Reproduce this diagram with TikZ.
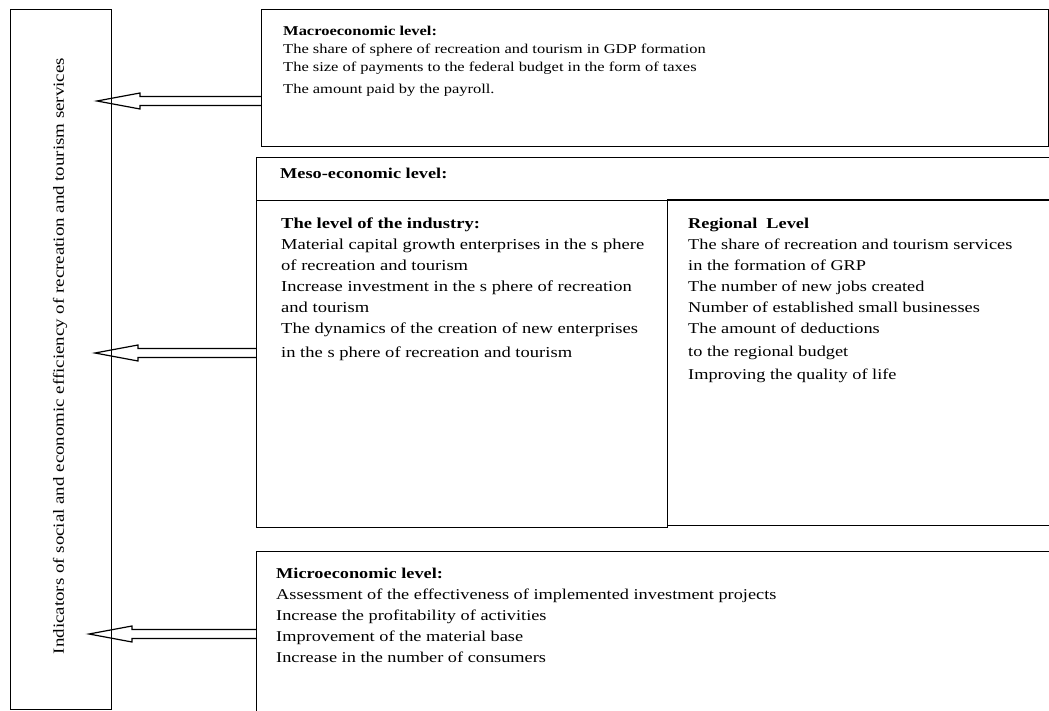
\documentclass[tikz,border=0pt]{standalone}
\usepackage{fontspec}
\setmainfont{Liberation Serif}[FakeStretch=1.22]
\usetikzlibrary{calc}

\tikzset{
  levelbox/.style={draw, line width=1.4pt, inner sep=0pt, anchor=north west},
  leveltext/.style={anchor=north west, align=left, inner sep=0pt,
    font=\fontsize{15}{21}\selectfont},
  hollow/.style={draw, line width=1.2pt},
}
% hollow block arrow from a point on a box (#1) to its tip (#2)
\newcommand{\hollowarrow}[2]{%
  \draw[hollow] let \p1=(#1), \p2=(#2) in
    (\x1,\y2+4.5pt) -- (\x2+43pt,\y2+4.5pt) -- (\x2+43pt,\y2+8pt) -- (\p2)
    -- (\x2+43pt,\y2-8pt) -- (\x2+43pt,\y2-4.5pt) -- (\x1,\y2-4.5pt);}

\begin{document}
\begin{tikzpicture}[x=1pt,y=-1pt]
    \useasboundingbox (0,0) rectangle (1049,711);
    % left box with the rotated title
    \node[levelbox, minimum width=101pt, minimum height=700pt] (indicators) at (10,9) {};
    \node[rotate=90, font=\fontsize{15.5}{21}\selectfont] (indtitle) at (60,356)
      {Indicators of social and economic efficiency of recreation and tourism services};
    % macroeconomic level
    \node[levelbox, minimum width=787pt, minimum height=137pt] (macro) at (261,9) {};
    \node[leveltext, font=\fontsize{13.5}{18}\selectfont] (macrotext) at (283,26)
      {\textbf{Macroeconomic level:}\\
      The share of sphere of recreation and tourism in GDP formation\\
      The size of payments to the federal budget in the form of taxes\\[4pt]
      The amount paid by the payroll.};
    % meso-economic level, cut by the right margin
    \node[levelbox, minimum width=800pt, minimum height=43pt] (meso) at (256,157) {};
    \node[leveltext] (mesotext) at (280,168) {\textbf{Meso-economic level:}};
    \node[levelbox, minimum width=411pt, minimum height=327pt] (industry) at (256,200) {};
    \node[leveltext, font=\fontsize{15.2}{21}\selectfont] (industrytext) at (281,218)
      {\textbf{The level of the industry:}\\
      Material capital growth enterprises in the s phere\\
      of recreation and tourism\\
      Increase investment in the s phere of recreation\\
      and tourism\\
      The dynamics of the creation of new enterprises\\[3pt]
      in the s phere of recreation and tourism};
    \node[levelbox, minimum width=390pt, minimum height=326pt] (regional) at (667,199) {};
    \node[leveltext] (regionaltext) at (688,218) {\textbf{Regional\ \ Level}\\
      The share of recreation and tourism services\\
      in the formation of GRP\\
      The number of new jobs created\\
      Number of established small businesses\\
      The amount of deductions\\[2pt]
      to the regional budget\\[2pt]
      Improving the quality of life};
    % microeconomic level, cut by the bottom margin
    \node[levelbox, minimum width=800pt, minimum height=170pt] (micro) at (256,551) {};
    \node[leveltext] (microtext) at (276,568) {\textbf{Microeconomic level:}\\
      Assessment of the effectiveness of implemented investment projects\\
      Increase the profitability of activities\\
      Improvement of the material base\\
      Increase in the number of consumers};
    % hollow arrows into the left box
    \coordinate (tipmacro) at (97,101);
    \coordinate (tipmeso) at (95,353);
    \coordinate (tipmicro) at (89,634);
    \hollowarrow{macro.west |- tipmacro}{tipmacro}
    \hollowarrow{industry.west |- tipmeso}{tipmeso}
    \hollowarrow{micro.west |- tipmicro}{tipmicro}
\end{tikzpicture}
\end{document}
